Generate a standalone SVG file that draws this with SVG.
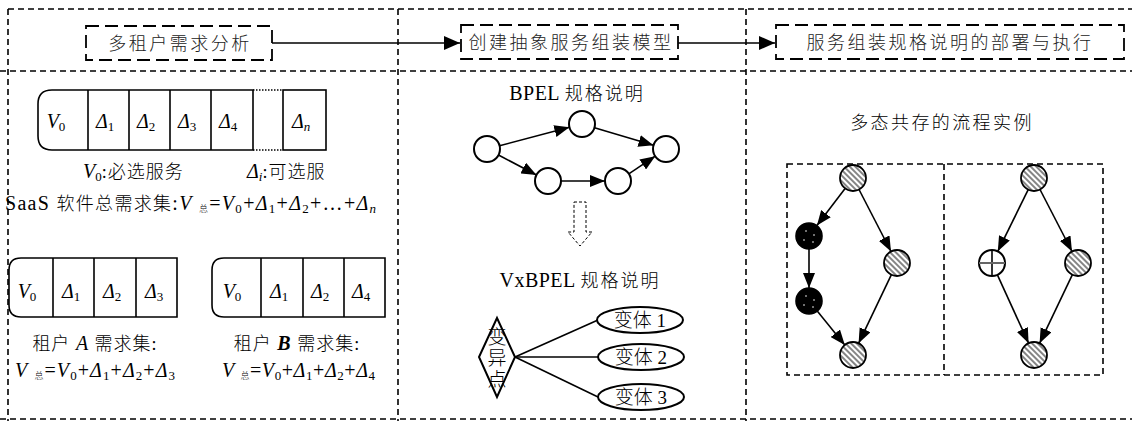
<svg xmlns="http://www.w3.org/2000/svg" width="1132" height="421" viewBox="0 0 1132 421">
<style>
.frame{fill:none;stroke:#000;stroke-width:1.6;stroke-dasharray:6 4}
.hbox{fill:#fff;stroke:#000;stroke-width:1.8;stroke-dasharray:13 6}
.ln{fill:none;stroke:#000;stroke-width:1.6}
.cell{fill:#fff;stroke:#000;stroke-width:1.6}
.t{font-family:"Liberation Serif","Noto Sans CJK SC",serif;fill:#000;font-weight:300}
.h{font-family:"Noto Sans CJK SC",sans-serif;font-size:18px;letter-spacing:2.5px;fill:#222;text-anchor:middle;font-weight:300}
.it{font-style:italic}
.sub{font-size:13px;font-style:normal}
.subi{font-size:13px;font-style:italic}
.node{fill:#fff;stroke:#000;stroke-width:2}
.hatch{fill:url(#hp);stroke:#000;stroke-width:1.8}
.blk{fill:#000;stroke:#000;stroke-width:1.6}
.arr{fill:none;stroke:#000;stroke-width:1.6;marker-end:url(#ah)}
</style>
<defs>
<marker id="ah" markerUnits="userSpaceOnUse" markerWidth="15" markerHeight="12" refX="15" refY="6" orient="auto"><path d="M0,0 L15,6 L0,12 Z" fill="#000"/></marker>
<marker id="ahb" markerUnits="userSpaceOnUse" markerWidth="16" markerHeight="14" refX="16" refY="7" orient="auto"><path d="M0,0 L16,7 L0,14 Z" fill="#000"/></marker>
<pattern id="hp" patternUnits="userSpaceOnUse" width="4" height="4" patternTransform="rotate(45)"><rect width="4" height="4" fill="#fff"/><line x1="0" y1="1" x2="4" y2="1" stroke="#666" stroke-width="1.6"/></pattern>
</defs>

<g id="frame">
<line class="frame" x1="8" y1="9" x2="1132" y2="9"/>
<line class="frame" x1="0" y1="71" x2="1132" y2="71"/>
<line class="frame" x1="0" y1="419" x2="1132" y2="419"/>
<line class="frame" x1="8" y1="9" x2="8" y2="421"/>
<line class="frame" x1="398" y1="9" x2="398" y2="421"/>
<line class="frame" x1="746" y1="9" x2="746" y2="421"/>
</g>

<g id="connectors">
<line class="ln" x1="272" y1="43" x2="460" y2="43" style="marker-end:url(#ahb)"/>
<line class="ln" x1="678" y1="43" x2="775" y2="43" style="marker-end:url(#ahb)"/>
<line class="arr" x1="499.6" y1="145.7" x2="569.4" y2="127.3"/>
<line class="arr" x1="594.5" y1="127.7" x2="653.5" y2="145.3"/>
<line class="arr" x1="498.5" y1="155" x2="536.5" y2="175"/>
<line class="arr" x1="561" y1="181" x2="605" y2="181"/>
<line class="arr" x1="628.8" y1="173.8" x2="655.2" y2="156.2"/>
<line class="ln" x1="515" y1="357" x2="598" y2="320"/>
<line class="ln" x1="515" y1="357" x2="598" y2="357"/>
<line class="ln" x1="515" y1="357" x2="598" y2="397"/>
<line class="arr" x1="845.1" y1="188.4" x2="816.9" y2="225.6"/>
<line class="arr" x1="809" y1="249" x2="809" y2="288"/>
<line class="arr" x1="817.2" y1="311.1" x2="844.8" y2="344.9"/>
<line class="arr" x1="859" y1="189.5" x2="891" y2="251.5"/>
<line class="arr" x1="891.4" y1="274.7" x2="858.6" y2="343.3"/>
<line class="arr" x1="1028.2" y1="189.7" x2="997.8" y2="251.3"/>
<line class="arr" x1="1040" y1="189.5" x2="1072" y2="251.5"/>
<line class="arr" x1="997.4" y1="274.8" x2="1028.6" y2="343.2"/>
<line class="arr" x1="1072.4" y1="274.7" x2="1039.6" y2="343.3"/>
</g>

<g id="step1">
<rect class="hbox" x="86" y="26" width="186" height="34"/>
<text class="h" x="180" y="50">多租户需求分析</text>
</g>
<g id="step2">
<rect class="hbox" x="461" y="25" width="217" height="34"/>
<text class="h" x="571" y="49">创建抽象服务组装模型</text>
</g>
<g id="step3">
<rect class="hbox" x="776" y="25" width="348" height="34"/>
<text class="h" x="950" y="49">服务组装规格说明的部署与执行</text>
</g>

<g id="all-requirements">
<path class="cell" d="M52,90 H253 V150 H52 Q38,150 38,136 V104 Q38,90 52,90 Z"/>
<line class="ln" x1="88" y1="90" x2="88" y2="150"/>
<line class="ln" x1="129" y1="90" x2="129" y2="150"/>
<line class="ln" x1="170" y1="90" x2="170" y2="150"/>
<line class="ln" x1="211" y1="90" x2="211" y2="150"/>
<line x1="253" y1="90" x2="283" y2="90" stroke="#000" stroke-width="1.6" stroke-dasharray="1.5 1.5"/>
<line x1="253" y1="150" x2="283" y2="150" stroke="#000" stroke-width="1.6" stroke-dasharray="1.5 1.5"/>
<rect class="cell" x="283" y="90" width="43" height="60"/>
<text class="t" font-size="20" text-anchor="middle" y="128"><tspan x="56" class="it">V</tspan><tspan class="sub" dy="3">0</tspan></text>
<text class="t" font-size="20" text-anchor="middle" y="128"><tspan x="105" class="it">Δ</tspan><tspan class="sub" dy="3">1</tspan></text>
<text class="t" font-size="20" text-anchor="middle" y="128"><tspan x="146" class="it">Δ</tspan><tspan class="sub" dy="3">2</tspan></text>
<text class="t" font-size="20" text-anchor="middle" y="128"><tspan x="187" class="it">Δ</tspan><tspan class="sub" dy="3">3</tspan></text>
<text class="t" font-size="20" text-anchor="middle" y="128"><tspan x="228" class="it">Δ</tspan><tspan class="sub" dy="3">4</tspan></text>
<text class="t" font-size="20" text-anchor="middle" y="128"><tspan x="301" class="it">Δ</tspan><tspan class="subi" dy="3">n</tspan></text>
<text class="t" font-size="20" y="178"><tspan x="83" class="it">V</tspan><tspan class="sub" dy="3">0</tspan><tspan dy="-3" font-size="18" letter-spacing="1">:必选服务</tspan></text>
<text class="t" font-size="20" y="178"><tspan x="247" class="it">Δ</tspan><tspan class="subi" dy="3">i</tspan><tspan dy="-3" font-size="18" letter-spacing="1">:可选服</tspan></text>
<text class="t" font-size="20" y="210" textLength="371" lengthAdjust="spacing" x="5">SaaS <tspan font-size="18">软件总需求集</tspan>:<tspan class="it">V</tspan> <tspan font-size="9" dy="2">总</tspan><tspan dy="-2">=</tspan><tspan class="it">V</tspan><tspan class="sub" dy="3">0</tspan><tspan dy="-3">+</tspan><tspan class="it">Δ</tspan><tspan class="sub" dy="3">1</tspan><tspan dy="-3">+</tspan><tspan class="it">Δ</tspan><tspan class="sub" dy="3">2</tspan><tspan dy="-3">+…+</tspan><tspan class="it">Δ</tspan><tspan class="subi" dy="3">n</tspan></text>
</g>

<g id="tenant-a">
<path class="cell" d="M21,258 H177 V317 H21 Q9,317 9,305 V270 Q9,258 21,258 Z"/>
<line class="ln" x1="53" y1="258" x2="53" y2="317"/>
<line class="ln" x1="94" y1="258" x2="94" y2="317"/>
<line class="ln" x1="136" y1="258" x2="136" y2="317"/>
<text class="t" font-size="20" text-anchor="middle" y="298"><tspan x="27" class="it">V</tspan><tspan class="sub" dy="3">0</tspan></text>
<text class="t" font-size="20" text-anchor="middle" y="298"><tspan x="71" class="it">Δ</tspan><tspan class="sub" dy="3">1</tspan></text>
<text class="t" font-size="20" text-anchor="middle" y="298"><tspan x="112" class="it">Δ</tspan><tspan class="sub" dy="3">2</tspan></text>
<text class="t" font-size="20" text-anchor="middle" y="298"><tspan x="154" class="it">Δ</tspan><tspan class="sub" dy="3">3</tspan></text>
<text class="t" font-size="18" text-anchor="middle" x="95" y="350" letter-spacing="1">租户 <tspan class="it" font-size="20">A</tspan> 需求集:</text>
<text class="t" font-size="20" y="377" x="15" textLength="160" lengthAdjust="spacing"><tspan class="it">V</tspan> <tspan font-size="9" dy="2">总</tspan><tspan dy="-2">=</tspan><tspan class="it">V</tspan><tspan class="sub" dy="3">0</tspan><tspan dy="-3">+</tspan><tspan class="it">Δ</tspan><tspan class="sub" dy="3">1</tspan><tspan dy="-3">+</tspan><tspan class="it">Δ</tspan><tspan class="sub" dy="3">2</tspan><tspan dy="-3">+</tspan><tspan class="it">Δ</tspan><tspan class="sub" dy="3">3</tspan></text>
</g>

<g id="tenant-b">
<path class="cell" d="M224,258 H385 V317 H224 Q212,317 212,305 V270 Q212,258 224,258 Z"/>
<line class="ln" x1="261" y1="258" x2="261" y2="317"/>
<line class="ln" x1="303" y1="258" x2="303" y2="317"/>
<line class="ln" x1="344" y1="258" x2="344" y2="317"/>
<text class="t" font-size="20" text-anchor="middle" y="298"><tspan x="232" class="it">V</tspan><tspan class="sub" dy="3">0</tspan></text>
<text class="t" font-size="20" text-anchor="middle" y="298"><tspan x="279" class="it">Δ</tspan><tspan class="sub" dy="3">1</tspan></text>
<text class="t" font-size="20" text-anchor="middle" y="298"><tspan x="320" class="it">Δ</tspan><tspan class="sub" dy="3">2</tspan></text>
<text class="t" font-size="20" text-anchor="middle" y="298"><tspan x="361" class="it">Δ</tspan><tspan class="sub" dy="3">4</tspan></text>
<text class="t" font-size="18" text-anchor="middle" x="297" y="350" letter-spacing="1">租户 <tspan class="it" font-size="20" font-weight="bold">B</tspan> 需求集:</text>
<text class="t" font-size="20" y="377" x="222" textLength="153" lengthAdjust="spacing"><tspan class="it">V</tspan> <tspan font-size="9" dy="2">总</tspan><tspan dy="-2">=</tspan><tspan class="it">V</tspan><tspan class="sub" dy="3">0</tspan><tspan dy="-3">+</tspan><tspan class="it">Δ</tspan><tspan class="sub" dy="3">1</tspan><tspan dy="-3">+</tspan><tspan class="it">Δ</tspan><tspan class="sub" dy="3">2</tspan><tspan dy="-3">+</tspan><tspan class="it">Δ</tspan><tspan class="sub" dy="3">4</tspan></text>
</g>

<g id="bpel">
<text class="t" font-size="20" text-anchor="middle" x="577" y="100" letter-spacing="0.5">BPEL <tspan font-size="18" letter-spacing="2">规格说明</tspan></text>
<circle class="node" cx="487" cy="149" r="13"/>
<circle class="node" cx="582" cy="124" r="13"/>
<circle class="node" cx="666" cy="149" r="13"/>
<circle class="node" cx="548" cy="181" r="13"/>
<circle class="node" cx="618" cy="181" r="13"/>
</g>

<g id="transform-arrow">
<path d="M574,202 H586 V232 H592 L580,246 L568,232 H574 Z" fill="#fff" stroke="#000" stroke-width="1" stroke-dasharray="3 2"/>
</g>

<g id="vxbpel">
<text class="t" font-size="20" text-anchor="middle" x="580" y="287" letter-spacing="0.5">VxBPEL <tspan font-size="18" letter-spacing="2">规格说明</tspan></text>
<polygon class="node" points="497,318 515,357 497,397 479,357"/>
<text class="t" font-size="19" text-anchor="middle" x="497" y="344">变</text>
<text class="t" font-size="19" text-anchor="middle" x="497" y="365">异</text>
<text class="t" font-size="19" text-anchor="middle" x="497" y="386">点</text>
<ellipse class="node" cx="640" cy="320" rx="43" ry="13"/>
<ellipse class="node" cx="641" cy="357" rx="43" ry="13"/>
<ellipse class="node" cx="641" cy="397" rx="43" ry="13"/>
<text class="t" font-size="19" text-anchor="middle" x="640" y="327">变体 1</text>
<text class="t" font-size="19" text-anchor="middle" x="641" y="364">变体 2</text>
<text class="t" font-size="19" text-anchor="middle" x="641" y="404">变体 3</text>
</g>

<g id="instances">
<text class="t" font-size="18" text-anchor="middle" x="942" y="129" letter-spacing="2.4">多态共存的流程实例</text>
<rect x="787" y="164" width="316" height="211" fill="none" stroke="#000" stroke-width="1.6" stroke-dasharray="6 4"/>
<line x1="944" y1="164" x2="944" y2="375" stroke="#000" stroke-width="1.6" stroke-dasharray="6 4"/>
<circle class="hatch" cx="853" cy="178" r="13"/>
<circle class="blk" cx="809" cy="236" r="13"/>
<circle class="blk" cx="809" cy="301" r="13"/>
<circle class="hatch" cx="897" cy="263" r="13"/>
<circle class="hatch" cx="853" cy="355" r="13"/>
<g fill="#fff">
<circle cx="806" cy="231" r="0.8"/><circle cx="814" cy="235" r="0.8"/><circle cx="804" cy="240" r="0.8"/><circle cx="813" cy="242" r="0.8"/>
<circle cx="806" cy="296" r="0.8"/><circle cx="814" cy="300" r="0.8"/><circle cx="804" cy="305" r="0.8"/><circle cx="813" cy="307" r="0.8"/>
</g>
<circle class="hatch" cx="1034" cy="178" r="13"/>
<circle class="node" cx="992" cy="263" r="13"/>
<line x1="992" y1="250" x2="992" y2="276" stroke="#000" stroke-width="1.6"/>
<line x1="979" y1="263" x2="1005" y2="263" stroke="#666" stroke-width="2"/>
<circle class="hatch" cx="1078" cy="263" r="13"/>
<circle class="hatch" cx="1034" cy="355" r="13"/>
</g>
</svg>
